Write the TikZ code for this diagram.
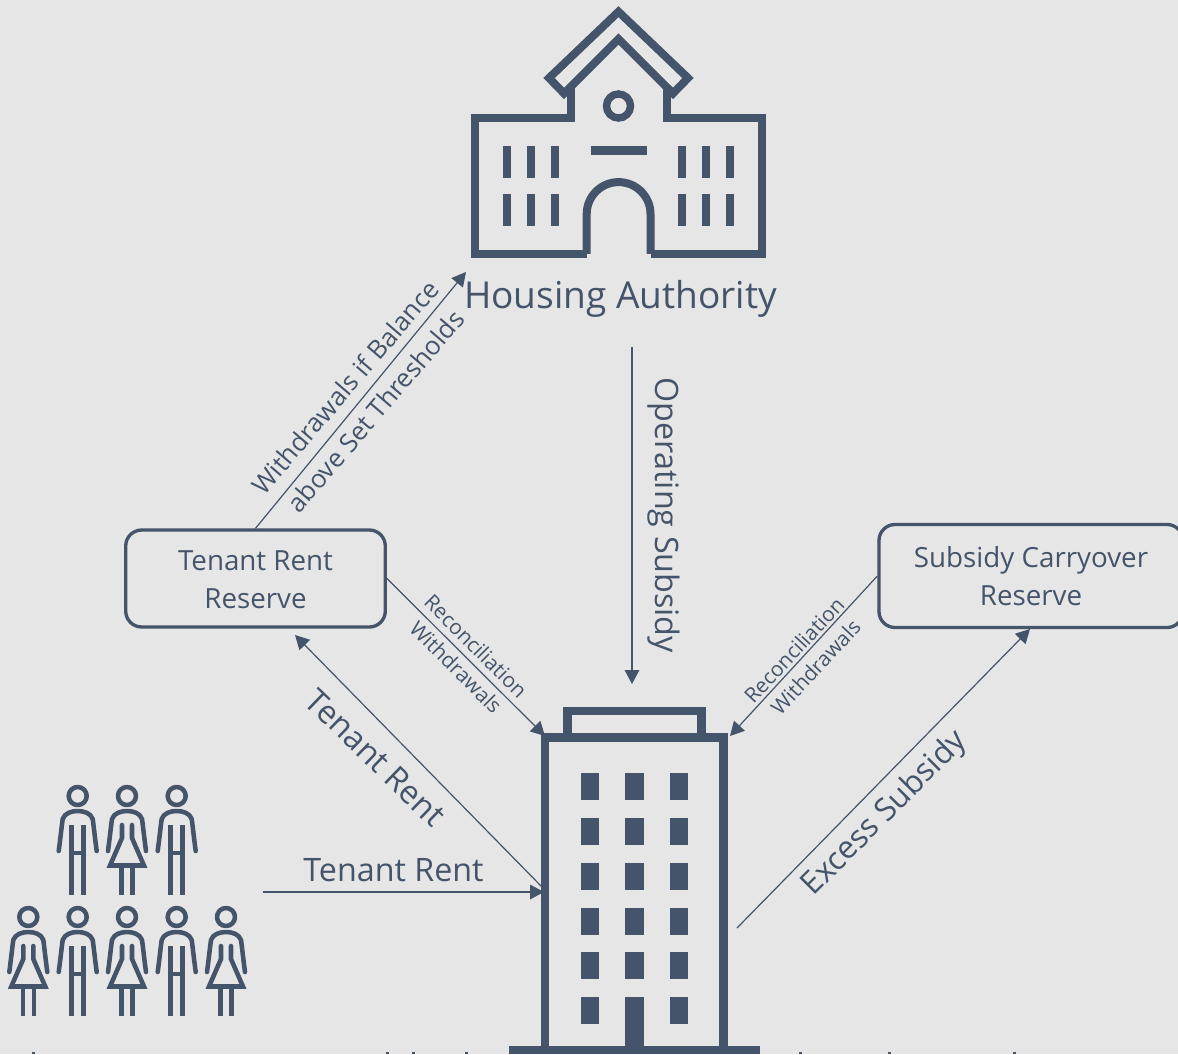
\documentclass[tikz,border=0pt]{standalone}
\usepackage{fontspec}
\setmainfont{Open Sans}
\usetikzlibrary{arrows.meta}
\definecolor{slate}{HTML}{44546A}
\definecolor{paper}{HTML}{E6E6E6}
\tikzset{
  link/.style={draw=slate,line width=0.9pt,-{Triangle[length=10.5pt,width=11pt]}},
  reservebox/.style={draw=slate,line width=2.5pt,rounded corners=12pt,inner sep=0pt,align=center,text=slate,font=\fontsize{20.8}{28.5}\selectfont},
  biglabel/.style={text=slate,inner sep=0pt,font=\fontsize{24.2}{28}\selectfont},
  midlabel/.style={text=slate,inner sep=0pt,font=\fontsize{19.3}{26}\selectfont},
  smalllabel/.style={text=slate,inner sep=0pt,font=\fontsize{15.6}{20}\selectfont},
  iconline/.style={draw=slate,line width=6pt,miter limit=10},
  pers/.style={draw=slate,line width=3.4pt,line cap=round,line join=round},
  solid block/.style={fill=slate,draw=none}
}
\newcommand{\lowtxt}[1]{\raisebox{-0.6pt}[\height][\depth]{#1}}
\newcommand{\headarms}{%
  \draw[pers] (0,0) circle (9);
  \draw[pers] (-19,55) .. controls (-17,40) and (-16,30) .. (-15,23) .. controls (-13,17) and (-6,15) .. (0,15) .. controls (6,15) and (13,17) .. (15,23) .. controls (16,30) and (17,40) .. (19,55);
}
\newcommand{\manfig}[2]{\begin{scope}[shift={(#1,#2)}]
  \headarms
  \draw[pers,line cap=butt] (-6,29) -- (-6,99) (6,29) -- (6,99) (-6,57) -- (6,57);
\end{scope}}
\newcommand{\womanfig}[2]{\begin{scope}[shift={(#1,#2)}]
  \headarms
  \draw[pers,line join=miter] (-5,29) -- (-5,42) -- (-17,69.5) -- (17,69.5) -- (5,42) -- (5,29);
  \draw[pers,line cap=butt] (-5.5,70) -- (-5.5,99) (5.5,70) -- (5.5,99);
\end{scope}}
\begin{document}
\begin{tikzpicture}[x=0.75pt,y=-0.75pt]
\useasboundingbox (0,0) rectangle (1178,1054);
\clip (0,0) rectangle (1178,1054);
\fill[paper] (0,0) rectangle (1178,1054);

% Housing authority icon
\draw[iconline] (586.7,253.8) -- (475,253.8) -- (475,118.3) -- (570.5,118.3) -- (570.5,88);
\draw[iconline] (650.5,253.8) -- (762,253.8) -- (762,118.3) -- (666.7,118.3) -- (666.7,88);
\draw[iconline] (586.7,253.8) -- (586.7,214) arc[start angle=180,end angle=360,radius=31.9] -- (650.5,253.8);
\draw[iconline] (618.5,11.7) -- (549,78) -- (564,93.4) -- (618.5,39) -- (673,93.4) -- (688,78) -- cycle;
\draw[draw=slate,line width=5.6pt] (618.5,106) circle (12);
\fill[solid block] (590.7,146) rectangle (646.7,154.7);
\foreach \wx in {502.7,526.7,550.7,678,702,726}{
  \fill[solid block] (\wx,146) rectangle (\wx+8.3,178.3);
  \fill[solid block] (\wx,194.3) rectangle (\wx+8.3,226.3);
}

% Apartment building icon
\fill[solid block] (563.3,706.7) rectangle (705.7,742);
\fill[paper] (572,715.3) rectangle (697,733.3);
\fill[solid block] (540.7,733.3) rectangle (728.3,1050);
\fill[paper] (549.3,742.3) rectangle (719.3,1046);
\foreach \wy in {773.3,818,863,907.7,952.3,997}{
  \foreach \wx in {580.7,625.3,670}{
    \fill[solid block] (\wx,\wy) rectangle (\wx+18.3,\wy+27);
  }
}
\fill[solid block] (625.3,1020) rectangle (643.7,1050);
\fill[solid block] (509,1046) rectangle (760,1054);

% People
\manfig{77.7}{796}
\womanfig{127}{796}
\manfig{176.7}{796}
\womanfig{28.3}{917}
\manfig{77.7}{917}
\womanfig{127}{917}
\manfig{176.7}{917}
\womanfig{226}{917}

% Cut-off text at the lower edge
\foreach \sx in {33,387,413,466,800,889,1014}{
  \fill[slate] (\sx-1.5,1052) rectangle (\sx+1.5,1054);
}

% Nodes
\node[biglabel,font=\fontsize{27.8}{34}\selectfont,anchor=base] (housing) at (620.5,308) {Housing Authority};
\node[reservebox,minimum width=194.7pt,minimum height=72.75pt] (tenantres) at (255.5,578.5) {\lowtxt{Tenant Rent}\\\lowtxt{Reserve}};
\node[reservebox,minimum width=228pt,minimum height=77.25pt] (subsidyres) at (1031,576) {Subsidy Carryover\\Reserve};

% Free ends
\coordinate (authin) at (466,272);
\coordinate (opstart) at (632,347);
\coordinate (opend) at (632,684);
\coordinate (peopleout) at (263,892);
\coordinate (bwest) at (544,892);
\coordinate (bwestup) at (543,888);
\coordinate (resin) at (295,635);
\coordinate (bnw) at (545,736);
\coordinate (bne) at (730,736);
\coordinate (bout) at (737,928);
\coordinate (subin) at (1030,629);

% Connectors
\draw[link] (tenantres.north) -- (authin);
\draw[link] (opstart) -- (opend);
\draw[link] (peopleout) -- (bwest);
\draw[link] (bwestup) -- (resin);
\draw[link] (tenantres.east) -- (bnw);
\draw[link] (subsidyres.west) -- (bne);
\draw[link] (bout) -- (subin);

% Labels
\node[smalllabel,rotate=-45] (lblrecl) at (476,646) {Reconciliation};
\node[smalllabel,rotate=-45] (lblwitl) at (456,667) {Withdrawals};
\node[smalllabel,rotate=47] (lblrecr) at (794,650) {Reconciliation};
\node[smalllabel,rotate=47] (lblwitr) at (815.5,667) {Withdrawals};
\node[midlabel,rotate=49.5] (lblwa) at (345,387) {Withdrawals if Balance};
\node[midlabel,rotate=49.5] (lblwb) at (375.5,411) {above Set Thresholds};
\node[biglabel,rotate=-90] (lblop) at (664,515) {Operating Subsidy};
\node[biglabel,rotate=-44] (lbltd) at (375.5,758) {Tenant Rent};
\node[biglabel] (lblth) at (393.5,870) {Tenant Rent};
\node[biglabel,rotate=45,font=\fontsize{23.6}{28}\selectfont] (lblex) at (885,814) {Excess Subsidy};
\end{tikzpicture}
\end{document}
